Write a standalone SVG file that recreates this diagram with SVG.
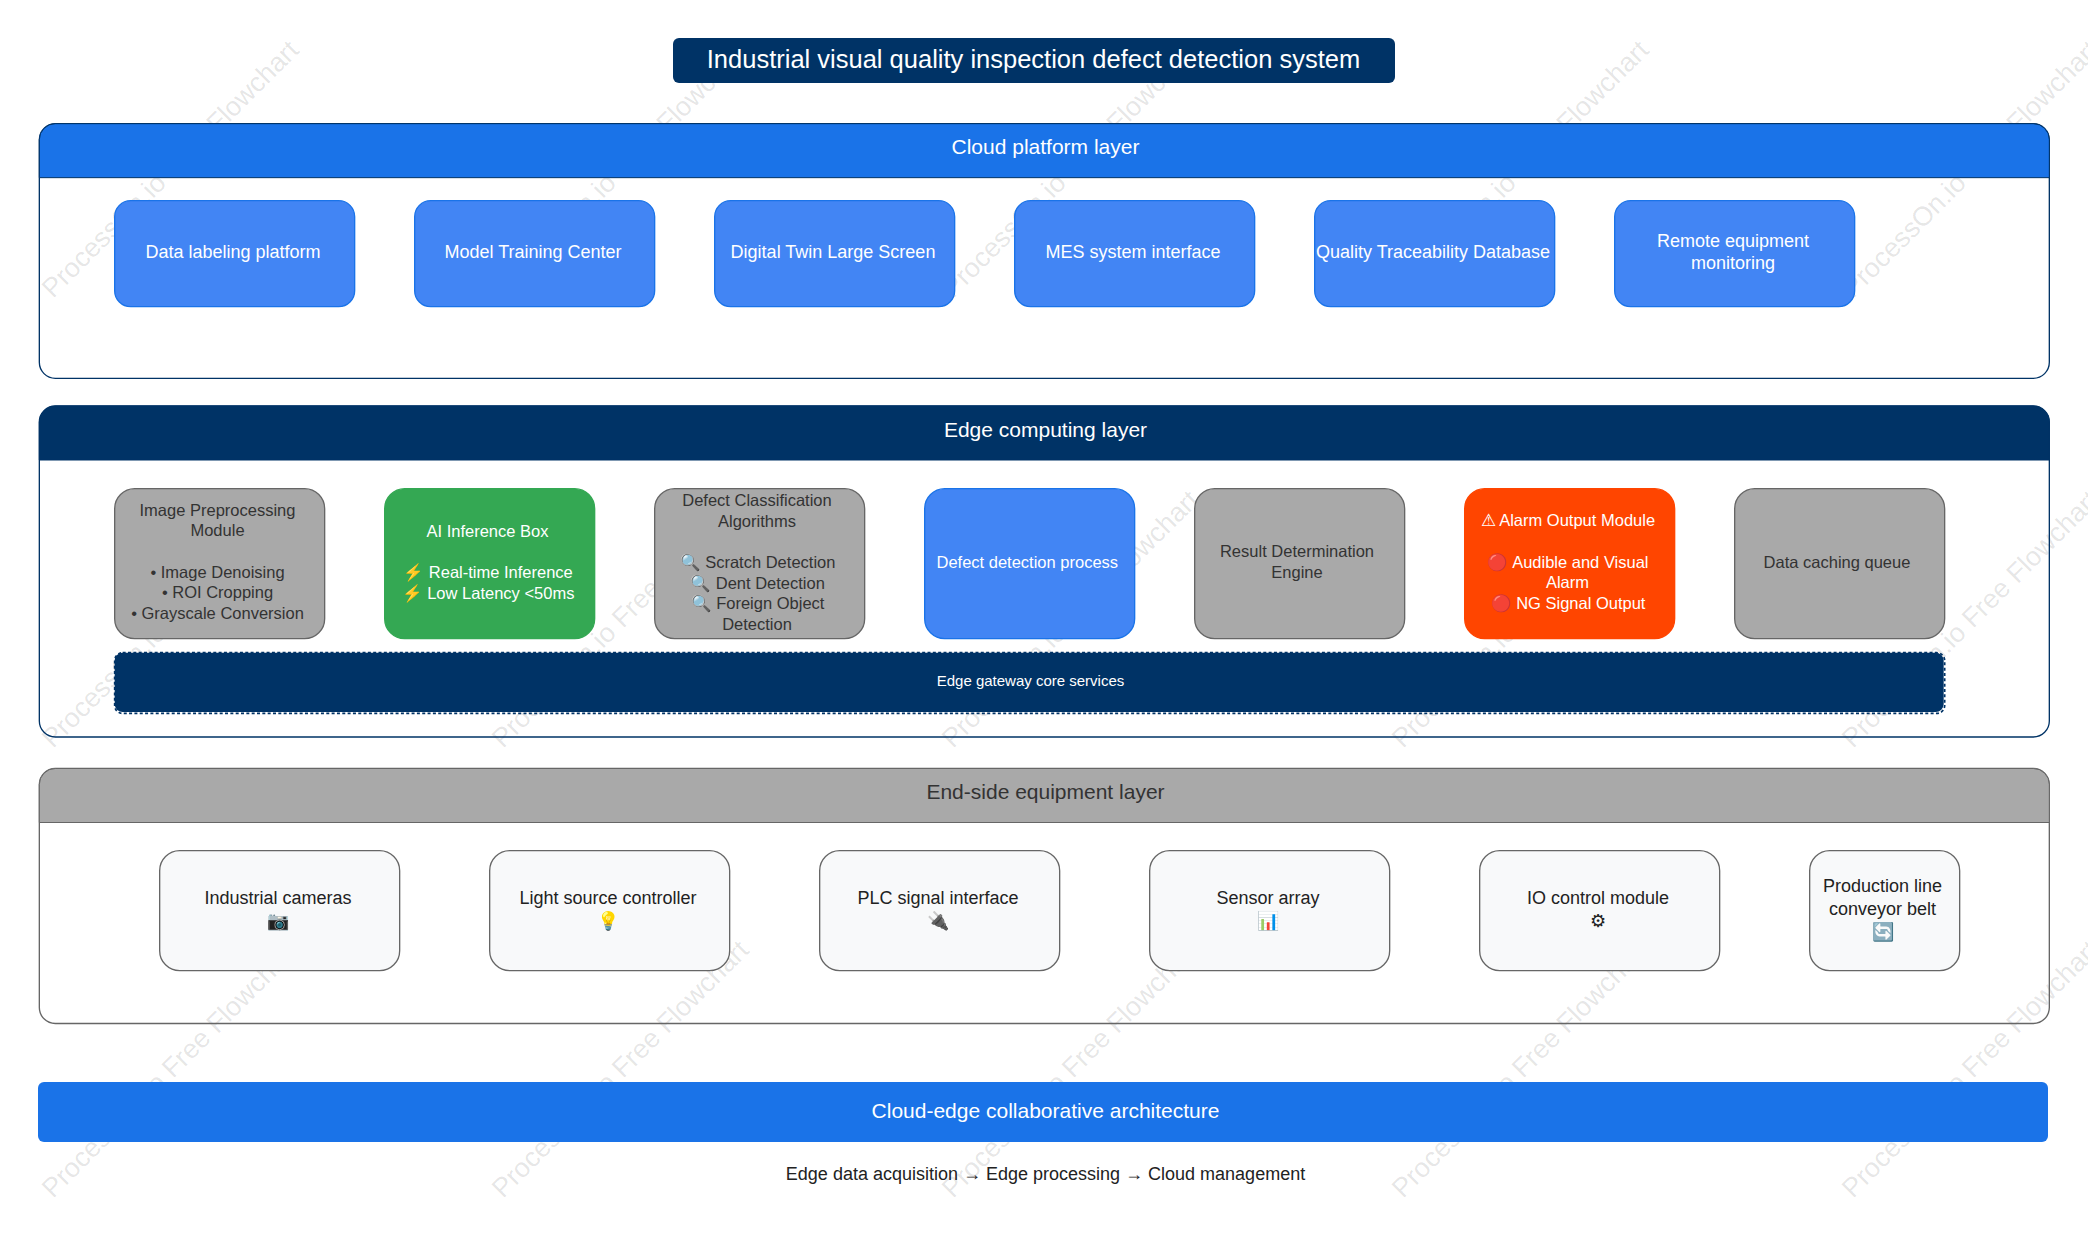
<svg xmlns="http://www.w3.org/2000/svg" width="2088" height="1234" viewBox="0 0 2088 1234">
<defs>
<style>
text{font-family:"Liberation Sans",Arial,sans-serif;text-anchor:middle}
.wm{font-size:27px;fill:#000;fill-opacity:.11}
.c{fill:#4285f4;stroke:#1a73e8;stroke-width:1.33}
.g{fill:#a9a9a9;stroke:#666;stroke-width:1.33}
.e{fill:#f8f9fa;stroke:#666;stroke-width:1.33}
.t18{font-size:18px}
.t165{font-size:16.5px}
.w{fill:#fff}
.d{fill:#333}
.k{fill:#222}
.h{font-size:21px}
</style>
<text id="wmt" class="wm" transform="rotate(-45)" x="0" y="0" style="text-anchor:start">ProcessOn.io Free Flowchart</text>
</defs>
<rect width="2088" height="1234" fill="#fff"/>
<g id="watermarks">
<use href="#wmt" x="53" y="299"/><use href="#wmt" x="503" y="299"/><use href="#wmt" x="953" y="299"/><use href="#wmt" x="1403" y="299"/><use href="#wmt" x="1853" y="299"/>
<use href="#wmt" x="53" y="749"/><use href="#wmt" x="503" y="749"/><use href="#wmt" x="953" y="749"/><use href="#wmt" x="1403" y="749"/><use href="#wmt" x="1853" y="749"/>
<use href="#wmt" x="53" y="1199"/><use href="#wmt" x="503" y="1199"/><use href="#wmt" x="953" y="1199"/><use href="#wmt" x="1403" y="1199"/><use href="#wmt" x="1853" y="1199"/>
</g>
<g id="title"><rect x="673" y="38" width="722" height="45" rx="6" fill="#003366"/><text x="1033.5" y="67.5" font-size="25.5" class="w">Industrial visual quality inspection defect detection system</text></g>

<g id="cloud-layer">
<rect x="39.33" y="123.67" width="2010" height="254.67" rx="16" fill="none" stroke="#003366" stroke-width="1.33"/>
<path d="M39.33 177.67V139.67a16 16 0 0 1 16-16H2033.33a16 16 0 0 1 16 16V177.67Z" fill="#1a73e8" stroke="#003366" stroke-width="1"/>
<text x="1045.5" y="154" class="h w">Cloud platform layer</text>
</g>
<g id="n-data-labeling"><rect class="c" x="114.67" y="200.67" width="240" height="106" rx="16"/><text class="t18 w" x="233" y="258">Data labeling platform</text></g>
<g id="n-model-training"><rect class="c" x="414.67" y="200.67" width="240" height="106" rx="16"/><text class="t18 w" x="533" y="258">Model Training Center</text></g>
<g id="n-digital-twin"><rect class="c" x="714.67" y="200.67" width="240" height="106" rx="16"/><text class="t18 w" x="833" y="258">Digital Twin Large Screen</text></g>
<g id="n-mes"><rect class="c" x="1014.67" y="200.67" width="240" height="106" rx="16"/><text class="t18 w" x="1133" y="258">MES system interface</text></g>
<g id="n-quality"><rect class="c" x="1314.67" y="200.67" width="240" height="106" rx="16"/><text class="t18 w" x="1433" y="258">Quality Traceability Database</text></g>
<g id="n-remote"><rect class="c" x="1614.67" y="200.67" width="240" height="106" rx="16"/><text class="t18 w" x="1733" y="247">Remote equipment</text><text class="t18 w" x="1733" y="268.7">monitoring</text></g>

<g id="edge-layer">
<rect x="39.33" y="406" width="2010" height="331" rx="16" fill="none" stroke="#003366" stroke-width="1.33"/>
<path d="M39.33 460V422a16 16 0 0 1 16-16H2033.33a16 16 0 0 1 16 16V460Z" fill="#003366" stroke="#003366" stroke-width="1"/>
<text x="1045.5" y="436.5" class="h w">Edge computing layer</text>
</g>
<g id="n-preprocess"><rect class="g" x="114.67" y="488.67" width="210" height="150" rx="20"/>
<text class="t165 d" x="217.5" y="515.5">Image Preprocessing</text><text class="t165 d" x="217.5" y="536.3">Module</text><text class="t165 d" x="217.5" y="577.8">• Image Denoising</text><text class="t165 d" x="217.5" y="598.2">• ROI Cropping</text><text class="t165 d" x="217.5" y="618.7">• Grayscale Conversion</text></g>
<g id="n-ai"><rect x="384.67" y="488.67" width="210" height="150" rx="20" fill="#34a853" stroke="#34a853" stroke-width="1.33"/>
<text class="t165 w" x="487.5" y="536.5">AI Inference Box</text><text class="t165 w" x="488" y="577.8">⚡ Real-time Inference</text><text class="t165 w" x="488" y="598.6">⚡ Low Latency &lt;50ms</text></g>
<g id="n-classify"><rect class="g" x="654.67" y="488.67" width="210" height="150" rx="20"/>
<text class="t165 d" x="757" y="505.5">Defect Classification</text><text class="t165 d" x="757" y="526.7">Algorithms</text><text class="t165 d" x="757.5" y="568">🔍 Scratch Detection</text><text class="t165 d" x="757.5" y="588.8">🔍 Dent Detection</text><text class="t165 d" x="757.5" y="609">🔍 Foreign Object</text><text class="t165 d" x="757" y="630">Detection</text></g>
<g id="n-defect-process"><rect class="c" x="924.67" y="488.67" width="210" height="150" rx="20"/><text class="t165 w" x="1027.3" y="568">Defect detection process</text></g>
<g id="n-result"><rect class="g" x="1194.67" y="488.67" width="210" height="150" rx="20"/><text class="t165 d" x="1297" y="557.3">Result Determination</text><text class="t165 d" x="1297" y="578">Engine</text></g>
<g id="n-alarm"><rect x="1464.67" y="488.67" width="210" height="150" rx="20" fill="#ff4500" stroke="#ff4500" stroke-width="1.33"/>
<text class="t165 w" x="1567.8" y="525.7">⚠ Alarm Output Module</text><text class="t165 w" x="1568" y="568">🔴 Audible and Visual</text><text class="t165 w" x="1567.5" y="588.3">Alarm</text><text class="t165 w" x="1568" y="608.7">🔴 NG Signal Output</text></g>
<g id="n-cache"><rect class="g" x="1734.67" y="488.67" width="210" height="150" rx="20"/><text class="t165 d" x="1837" y="568">Data caching queue</text></g>
<g id="n-gateway"><rect x="114.67" y="652.67" width="1829" height="59.3" rx="8" fill="#003366"/><rect x="114.67" y="652.67" width="1830" height="60.8" rx="8" fill="none" stroke="#003366" stroke-width="1.7" stroke-dasharray="3 2.33"/><text x="1030.5" y="686" font-size="15" class="w">Edge gateway core services</text></g>

<g id="end-layer">
<rect x="39.33" y="768.5" width="2010" height="255" rx="16" fill="none" stroke="#666" stroke-width="1.33"/>
<path d="M39.33 822.5V784.5a16 16 0 0 1 16-16H2033.33a16 16 0 0 1 16 16V822.5Z" fill="#a9a9a9" stroke="#666" stroke-width="1"/>
<text x="1045.5" y="798.5" class="h d">End-side equipment layer</text>
</g>
<g id="n-cameras"><rect class="e" x="159.67" y="850.67" width="240" height="120" rx="20"/><text class="t18 k" x="278" y="904">Industrial cameras</text><text class="t18 k" x="278" y="926.5">📷</text></g>
<g id="n-light"><rect class="e" x="489.67" y="850.67" width="240" height="120" rx="20"/><text class="t18 k" x="608" y="904">Light source controller</text><text class="t18 k" x="608" y="926.5">💡</text></g>
<g id="n-plc"><rect class="e" x="819.67" y="850.67" width="240" height="120" rx="20"/><text class="t18 k" x="938" y="904">PLC signal interface</text><text class="t18 k" x="938" y="926.5">🔌</text></g>
<g id="n-sensor"><rect class="e" x="1149.67" y="850.67" width="240" height="120" rx="20"/><text class="t18 k" x="1268" y="904">Sensor array</text><text class="t18 k" x="1268" y="926.5">📊</text></g>
<g id="n-io"><rect class="e" x="1479.67" y="850.67" width="240" height="120" rx="20"/><text class="t18 k" x="1598" y="904">IO control module</text><text class="t18 k" x="1598" y="926.5">⚙</text></g>
<g id="n-conveyor"><rect class="e" x="1809.67" y="850.67" width="150" height="120" rx="20"/><text class="t18 k" x="1882.5" y="892.4">Production line</text><text class="t18 k" x="1882.5" y="914.7">conveyor belt</text><text class="t18 k" x="1882.5" y="937.7">🔄</text></g>

<g id="banner"><rect x="38" y="1082" width="2010" height="60" rx="6" fill="#1a73e8"/><text x="1045.5" y="1118" font-size="21" class="w">Cloud-edge collaborative architecture</text></g>
<g id="caption"><text x="1045.5" y="1180" class="t18 k">Edge data acquisition → Edge processing → Cloud management</text></g>
<g id="connectors"/>
</svg>
